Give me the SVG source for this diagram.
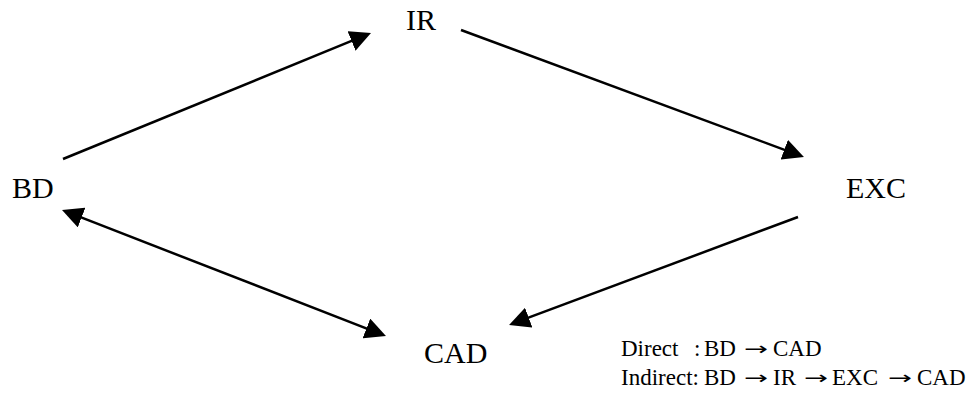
<svg xmlns="http://www.w3.org/2000/svg" width="971" height="398" viewBox="0 0 971 398">
<style>
.node{font-family:"Liberation Serif","Times New Roman",serif;font-size:30px;fill:#000}
.leg{font-family:"Liberation Serif","Times New Roman",serif;font-size:23px;fill:#000}
.arr{font-family:"DejaVu Sans",sans-serif;font-size:18px;fill:#000}
.edge{stroke:#000;stroke-width:2.5;fill:none}
</style>
<defs>
<marker id="ah" viewBox="0 0 21 21" refX="6" refY="10.5" markerWidth="21" markerHeight="21" markerUnits="userSpaceOnUse" orient="auto-start-reverse">
<path d="M0,0 L21,10.5 L0,21 z" fill="#000"/>
</marker>
</defs>
<g id="connectors">
<line class="edge" x1="63" y1="159" x2="357.1" y2="38.7" marker-end="url(#ah)"/>
<line class="edge" x1="461" y1="30" x2="789.9" y2="151.8" marker-end="url(#ah)"/>
<line class="edge" x1="798" y1="217" x2="523.1" y2="319.7" marker-end="url(#ah)"/>
<line class="edge" x1="76" y1="215.4" x2="372" y2="330.6" marker-start="url(#ah)" marker-end="url(#ah)"/>
</g>
<g id="node-IR"><text class="node" x="406" y="30">IR</text></g>
<g id="node-BD"><text class="node" x="12" y="198">BD</text></g>
<g id="node-EXC"><text class="node" x="846" y="198">EXC</text></g>
<g id="node-CAD"><text class="node" x="424" y="363">CAD</text></g>
<g id="legend">
<text class="leg" y="356"><tspan x="621">Direct</tspan><tspan x="694">:</tspan><tspan x="704">BD</tspan><tspan x="773">CAD</tspan></text>
<text class="arr" x="744" y="355" textLength="24" lengthAdjust="spacingAndGlyphs">→</text>
<text class="leg" y="385"><tspan x="621">Indirect:</tspan><tspan x="704">BD</tspan><tspan x="773">IR</tspan><tspan x="832">EXC</tspan><tspan x="917">CAD</tspan></text>
<text class="arr" x="744" y="384" textLength="24" lengthAdjust="spacingAndGlyphs">→</text>
<text class="arr" x="804" y="384" textLength="24" lengthAdjust="spacingAndGlyphs">→</text>
<text class="arr" x="888" y="384" textLength="24" lengthAdjust="spacingAndGlyphs">→</text>
</g>
</svg>
